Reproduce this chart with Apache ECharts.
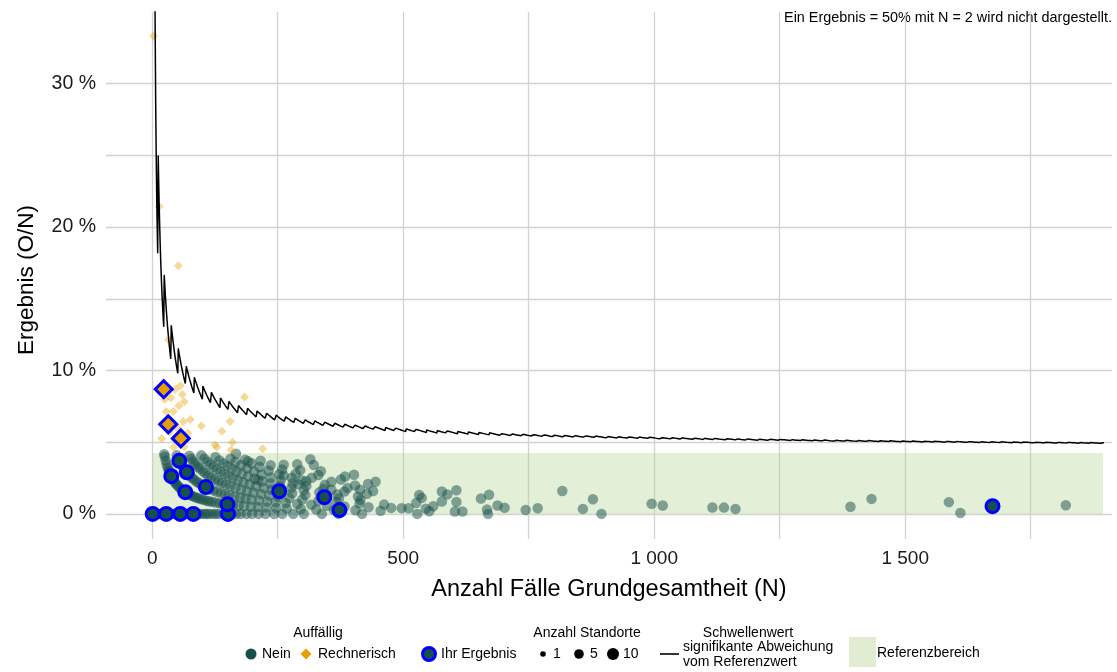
<!DOCTYPE html>
<html><head><meta charset="utf-8">
<script src="https://cdn.jsdelivr.net/npm/echarts@6/dist/echarts.min.js"></script>
<style>html,body{margin:0;padding:0;background:#fff}#c{width:1117px;height:672px}</style>
</head><body><div id="c"></div>
<script>
const FONT = '"Liberation Sans", Arial, Helvetica, sans-serif';

// ---- threshold line (significance limit): count of cases at the limit, rising by one at these N ----
const thresholdStartN = 5;
const thresholdStartCount = 2;
const thresholdEndN = 1896;
const thresholdStepN = [12, 24, 38, 52, 68, 84, 101, 118, 136, 153, 172, 190, 209, 228, 247, 266, 285, 305, 324, 344,
  364, 384, 404, 424, 444, 465, 485, 506, 526, 547, 568, 588, 609, 630, 651, 672, 693, 714, 735, 756,
  777, 798, 820, 841, 862, 884, 905, 926, 948, 969, 991, 1012, 1034, 1056, 1077, 1099, 1121, 1142, 1164, 1186,
  1208, 1229, 1251, 1273, 1295, 1317, 1339, 1361, 1383, 1405, 1427, 1449, 1471, 1493, 1515, 1537, 1559, 1581, 1603, 1625,
  1648, 1670, 1692, 1714, 1736, 1759, 1781, 1803, 1825, 1848, 1870, 1892];

// ---- reference range ----
const referenceLower = 0;
const referenceUpper = 4.25;
const referenceEndN = 1894;

// ---- "Nein": case numbers N of sites, grouped by observed count O ----
const neinCount0 = [4, 6, 7, 9, 11, 13, 14, 16, 18, 19, 21, 23, 25, 27, 29, 31, 34, 36, 39, 42, 45, 48, 51, 55, 58, 61, 65, 69, 73, 77, 81, 86, 90, 94, 99, 105, 109, 114, 121, 127, 133, 142, 149, 158, 167, 176, 188, 199, 212, 226, 243, 259, 281, 302, 338, 371, 418];
const neinCount1 = [24, 25, 27, 29, 31, 33, 34, 37, 39, 42, 44, 47, 49, 52, 55, 58, 62, 65, 68, 71, 75, 79, 83, 88, 92, 97, 102, 108, 113, 119, 126, 134, 141, 150, 161, 172, 183, 197, 211, 228, 247, 268, 296, 327, 362, 405, 455];
const neinCount2 = [49, 52, 55, 57, 60, 63, 66, 69, 72, 76, 80, 84, 89, 93, 98, 104, 109, 115, 122, 129, 137, 145, 154, 164, 175, 186, 198, 213, 229, 246, 266, 289, 317, 348, 383, 431, 476];
const neinCount3 = [74, 78, 82, 86, 91, 95, 101, 106, 112, 118, 125, 132, 139, 147, 156, 166, 177, 189, 202, 217, 233, 251, 273, 299, 331, 367, 413, 462];
const neinCount4 = [98, 104, 110, 116, 122, 129, 136, 144, 152, 161, 171, 182, 194, 207, 222, 238, 257, 279, 305, 336, 372, 415];
const neinCount5 = [126, 134, 142, 150, 159, 168, 179, 191, 204, 211, 219, 236, 255, 277, 302, 333, 369, 410];
const neinCount6 = [156, 166, 177, 189, 203, 218, 236, 256, 280, 291, 307, 341, 357, 383, 428];
const neinCount7 = [167, 185, 191, 198, 214, 232, 253, 262, 278, 298, 307, 344, 389, 414, 440];
const neinCount8 = [216, 236, 259, 286, 318, 357, 404];
const neinCount9 = [262, 295, 331, 376, 430];
const neinCount10 = [289, 336, 384, 445];
const neinCount11 = [322, 402];
const neinCount12 = [315];
// larger sites
const neinWideN = [497, 511, 526, 528, 532, 537, 545, 552, 560, 577, 577, 588, 603, 606, 606, 618, 655, 667, 669, 671, 688, 702, 744, 768, 817, 858, 878, 895, 995, 1017, 1116, 1139, 1162, 1391, 1433, 1587, 1610, 1820];
const neinWideO = [2, 2, 4, 0, 7, 6, 2, 1, 3, 9, 5, 8, 1, 10, 5, 1, 7, 2, 0, 9, 4, 3, 2, 3, 13, 3, 9, 0, 7, 6, 5, 5, 4, 7, 15, 13, 1, 11];

// ---- "Rechnerisch" ----
const rechN = [3, 14, 52, 33, 56, 60, 37, 53, 64, 25, 42, 76, 98, 62, 184, 155, 139, 19, 50, 71, 125, 157, 43, 64, 129, 220, 160, 28, 35, 46];
const rechO = [1, 3, 9, 4, 5, 5, 3, 4, 5, 2, 3, 5, 6, 4, 15, 10, 8, 1, 3, 4, 6, 7, 2, 3, 6, 10, 8, 2, 2, 4];

// ---- "Ihr Ergebnis" ----
const ihrNeinN = [1, 28, 56, 82, 151, 150, 54, 69, 38, 66, 107, 253, 343, 373, 1674];
const ihrNeinO = [0, 0, 0, 0, 0, 1, 2, 2, 1, 1, 2, 4, 4, 1, 9];
const ihrRechN = [23, 32, 57];
const ihrRechO = [2, 2, 3];

// ---- axis ticks ----
const yTickLabels = [0, 10, 20, 30];
const xTickLabels = [0, 500, 1000, 1500];

// ---------- build ----------
const rate = (n, o) => [n, 100 * o / n];
const fromPairs = (ns, os) => ns.map((n, i) => rate(n, os[i]));
const fromCount = (ns, o) => ns.map(n => rate(n, o));

const neinGroups = [neinCount0, neinCount1, neinCount2, neinCount3, neinCount4, neinCount5, neinCount6,
  neinCount7, neinCount8, neinCount9, neinCount10, neinCount11, neinCount12];
let neinData = [];
neinGroups.forEach((ns, o) => { neinData = neinData.concat(fromCount(ns, o)); });
neinData = neinData.concat(fromPairs(neinWideN, neinWideO));

const thresholdData = [];
{
  let k = thresholdStartCount, j = 0;
  for (let n = thresholdStartN; n <= thresholdEndN; n++) {
    while (j < thresholdStepN.length && thresholdStepN[j] <= n) { k++; j++; }
    thresholdData.push([n, 100 * k / n]);
  }
}

const GREEN = '#17504b';
const ORANGE = '#e69f00';
const BLUE = '#0000ff';

const fmtThousands = v => String(v).replace(/\B(?=(\d{3})+(?!\d))/g, ' ');

const chart = echarts.init(document.getElementById('c'), null, { renderer: 'canvas' });

const txt = (x, y, text, size, align, extra) => Object.assign({
  type: 'text', x: x, y: y,
  style: { text: text, fill: '#000', font: size + 'px ' + FONT, textAlign: align || 'left',
    textVerticalAlign: 'middle', verticalAlign: 'middle' }
}, extra || {});

const LS = 14;
const graphics = [
  txt(1112, 18, 'Ein Ergebnis = 50% mit N = 2 wird nicht dargestellt.', 14.4, 'right'),
  txt(609, 590, 'Anzahl Fälle Grundgesamtheit (N)', 23.5, 'center'),
  txt(27, 280, 'Ergebnis (O/N)', 22.5, 'center', { rotation: Math.PI / 2 }),
  // legend: Auffällig
  txt(318, 633, 'Auffällig', LS, 'center'),
  { type: 'circle', shape: { cx: 251, cy: 654, r: 5.5 }, style: { fill: GREEN } },
  txt(262, 654, 'Nein', LS),
  { type: 'polygon', shape: { points: [[306, 648.5], [311.5, 654], [306, 659.5], [300.5, 654]] }, style: { fill: ORANGE } },
  txt(318, 654, 'Rechnerisch', LS),
  { type: 'circle', shape: { cx: 429, cy: 654, r: 6.5 }, style: { fill: GREEN, stroke: BLUE, lineWidth: 3 } },
  txt(441, 654, 'Ihr Ergebnis', LS),
  // legend: Anzahl Standorte
  txt(587, 633, 'Anzahl Standorte', LS, 'center'),
  { type: 'circle', shape: { cx: 543, cy: 654, r: 2.8 }, style: { fill: '#000' } },
  txt(553, 654, '1', LS),
  { type: 'circle', shape: { cx: 579, cy: 654, r: 4.8 }, style: { fill: '#000' } },
  txt(590, 654, '5', LS),
  { type: 'circle', shape: { cx: 613, cy: 654, r: 6 }, style: { fill: '#000' } },
  txt(623, 654, '10', LS),
  // legend: Schwellenwert
  txt(748, 633, 'Schwellenwert', LS, 'center'),
  { type: 'line', shape: { x1: 660, y1: 654, x2: 679, y2: 654 }, style: { stroke: '#000', lineWidth: 1.6 } },
  txt(683, 647.5, 'signifikante Abweichung', LS),
  txt(683, 662, 'vom Referenzwert', LS),
  // legend: Referenzbereich
  { type: 'rect', shape: { x: 849, y: 637, width: 27, height: 30 }, style: { fill: '#e2ecd3' } },
  txt(877, 653, 'Referenzbereich', LS)
];

chart.setOption({
  animation: false,
  backgroundColor: '#fff',
  grid: { left: 106, right: 5, top: 12, bottom: 133, containLabel: false },
  xAxis: {
    type: 'value', min: -92, max: 1912, splitNumber: 8, minInterval: 250, maxInterval: 250,
    axisLine: { show: false }, axisTick: { show: false },
    axisLabel: {
      fontFamily: FONT, fontSize: 19, color: '#1a1a1a', margin: 10,
      formatter: v => (xTickLabels.indexOf(v) >= 0 ? fmtThousands(v) : '')
    },
    splitLine: { show: true, showMinLine: false, showMaxLine: false, lineStyle: { color: '#d2d2d2', width: 1.3 } }
  },
  yAxis: {
    type: 'value', min: -1.75, max: 35, splitNumber: 7, minInterval: 5, maxInterval: 5,
    axisLine: { show: false }, axisTick: { show: false },
    axisLabel: {
      fontFamily: FONT, fontSize: 19.5, color: '#1a1a1a', margin: 10,
      formatter: v => (yTickLabels.indexOf(v) >= 0 ? v + ' %' : '')
    },
    splitLine: { show: true, showMinLine: false, showMaxLine: false, lineStyle: { color: '#d2d2d2', width: 1.3 } }
  },
  graphic: graphics,
  series: [
    {
      type: 'scatter', name: 'Nein', data: neinData, z: 3,
      symbol: 'circle', symbolSize: 10.5,
      itemStyle: { color: GREEN, opacity: 0.5 },
      markArea: {
        silent: true,
        itemStyle: { color: 'rgba(170,205,130,0.33)' },
        data: [[{ xAxis: 0, yAxis: referenceLower }, { xAxis: referenceEndN, yAxis: referenceUpper }]]
      }
    },
    {
      type: 'scatter', name: 'Rechnerisch', data: fromPairs(rechN, rechO), z: 3,
      symbol: 'diamond', symbolSize: 9,
      itemStyle: { color: ORANGE, opacity: 0.4 }
    },
    {
      type: 'line', name: 'Schwellenwert', data: thresholdData, z: 4,
      showSymbol: false, symbol: 'none', clip: true,
      lineStyle: { color: '#000', width: 1.5 }
    },
    {
      type: 'scatter', name: 'Ihr Ergebnis', data: fromPairs(ihrNeinN, ihrNeinO), z: 5,
      symbol: 'circle', symbolSize: 13,
      itemStyle: { color: GREEN, borderColor: BLUE, borderWidth: 3, opacity: 1 }
    },
    {
      type: 'scatter', name: 'Ihr Ergebnis R', data: fromPairs(ihrRechN, ihrRechO), z: 5,
      symbol: 'diamond', symbolSize: 17,
      itemStyle: { color: ORANGE, borderColor: BLUE, borderWidth: 3, opacity: 1 }
    }
  ]
});
</script>
</body></html>
